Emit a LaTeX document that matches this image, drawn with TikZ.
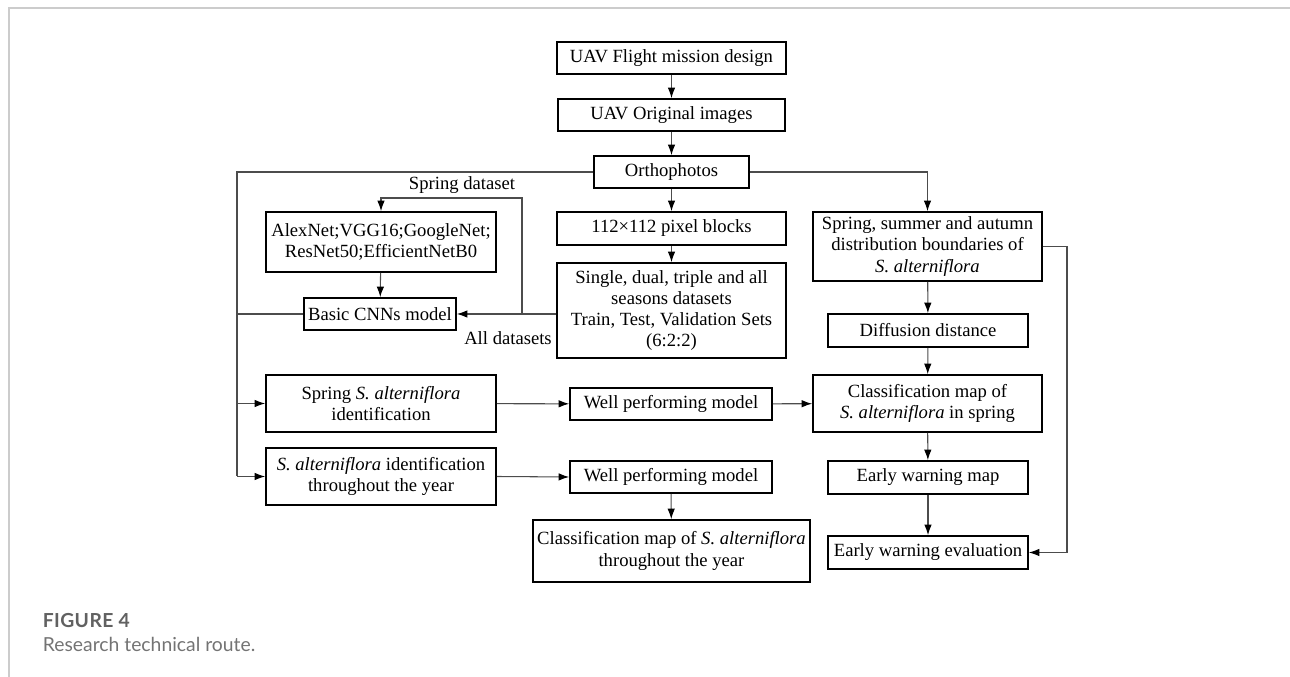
\documentclass[tikz,border=0pt]{standalone}
\usepackage{fontspec}
\setmainfont{Liberation Serif}
\newfontfamily\capfont{Lato}
\newfontfamily\capfontwide[LetterSpace=2]{Lato}
\usetikzlibrary{arrows.meta}

\begin{document}
\begin{tikzpicture}[line width=1pt, >={Latex[length=2.1mm,width=1.5mm,black]},
	block/.style={draw, line width=1pt, align=center, inner sep=1pt, font=\fontsize{10.6}{12}\selectfont},
	link/.style={line width=0.6pt, draw=black!70},
	lbl/.style={font=\fontsize{10.6}{12}\selectfont, inner sep=0pt}]
	\useasboundingbox (0,0) rectangle (25.8,13.54);
	\draw[black!20, line width=0.8pt] (0.18,0) -- (0.18,13.38) -- (25.8,13.38); % Рамка
	
	% Центральная колонка
	\node[block, minimum width=4.58cm, minimum height=0.64cm] (flight) at (13.43,12.38) {UAV Flight mission design};
	\node[block, minimum width=4.54cm, minimum height=0.64cm] (orig) at (13.43,11.24) {UAV Original images};
	\node[block, minimum width=3.1cm, minimum height=0.64cm] (ortho) at (13.43,10.10) {Orthophotos};
	\node[block, minimum width=4.58cm, minimum height=0.66cm] (blocks) at (13.43,8.97) {112×112 pixel blocks};
	\node[block, minimum width=4.58cm, minimum height=1.9cm] (sets) at (13.43,7.33) {Single, dual, triple and all\\seasons datasets\\Train, Test, Validation Sets\\(6:2:2)};
	\node[block, minimum width=4.04cm, minimum height=0.64cm] (model1) at (13.42,5.46) {Well performing model};
	\node[block, minimum width=4.04cm, minimum height=0.64cm] (model2) at (13.42,4.00) {Well performing model};
	\node[block, minimum width=5.54cm, minimum height=1.24cm] (mapyear) at (13.43,2.52) {Classification map of \textit{S. alterniflora}\\throughout the year};
	
	% Левая колонка
	\node[block, minimum width=4.6cm, minimum height=1.2cm] (nets) at (7.62,8.70) {AlexNet;VGG16;GoogleNet;\\ResNet50;EfficientNetB0};
	\node[block, minimum width=3.04cm, minimum height=0.64cm] (cnn) at (7.60,7.26) {Basic CNNs model};
	\node[block, minimum width=4.6cm, minimum height=1.14cm] (springid) at (7.62,5.47) {Spring \textit{S. alterniflora}\\identification};
	\node[block, minimum width=4.6cm, minimum height=1.14cm] (yearid) at (7.62,4.01) {\textit{S. alterniflora} identification\\throughout the year};
	
	% Правая колонка
	\node[block, minimum width=4.58cm, minimum height=1.38cm] (bounds) at (18.55,8.61) {Spring, summer and autumn\\distribution boundaries of\\\textit{S. alterniflora}};
	\node[block, minimum width=4.0cm, minimum height=0.66cm] (diff) at (18.56,6.93) {Diffusion distance};
	\node[block, minimum width=4.58cm, minimum height=1.14cm] (mapspring) at (18.55,5.47) {Classification map of\\\textit{S. alterniflora} in spring};
	\node[block, minimum width=4.0cm, minimum height=0.66cm] (warnmap) at (18.56,3.99) {Early warning map};
	\node[block, minimum width=4.0cm, minimum height=0.66cm] (warneval) at (18.56,2.49) {Early warning evaluation};
	
	\coordinate (bustop) at (4.74,10.10);
	\coordinate (busend) at (4.74,4.01);
	\coordinate (split) at (10.44,7.26);
	\coordinate (turn) at (10.44,9.58);
	\coordinate (rtop) at (21.34,8.61);
	
	\draw[link,->] (flight) -- (orig);
	\draw[link,->] (orig) -- (ortho);
	\draw[link,->] (ortho) -- (blocks);
	\draw[link,->] (blocks) -- (sets);
	\draw[link,->] (ortho.east) -| (bounds.north);
	
	\draw[link] (ortho.west) -- (bustop) -- (busend); % Левая шина
	\draw[link] (cnn.west) -- (cnn.west -| bustop);
	\draw[link,->] (springid.west -| bustop) -- (springid.west);
	\draw[link,->] (busend) -- (yearid.west);
	
	\draw[link,->] (cnn.east -| sets.west) -- (cnn.east);
	\draw[link,->] (split) -- (turn) -| (nets.north);
	\draw[link,->] (nets) -- (cnn);
	
	\draw[link,->] (springid) -- (model1);
	\draw[link,->] (model1) -- (mapspring);
	\draw[link,->] (yearid.east) -- (model2.west);
	\draw[link,->] (model2) -- (mapyear);
	
	\draw[link,->] (bounds) -- (diff);
	\draw[link,->] (diff) -- (mapspring);
	\draw[link,->] (mapspring) -- (warnmap);
	\draw[link,->] (warnmap) -- (warneval);
	\draw[link,->] (bounds.east) -- (rtop) |- (warneval.east);
	
	\node[lbl] (lspring) at (9.24,9.84) {Spring dataset};
	\node[lbl] (lall) at (10.16,6.78) {All datasets};
	
	% Подпись
	\node[anchor=west, inner sep=0pt, text=black!62, font=\capfontwide\bfseries\fontsize{11}{13}\selectfont] (fig) at (0.84,1.12) {FIGURE 4};
	\node[anchor=west, inner sep=0pt, text=black!55, font=\capfont\fontsize{11}{13}\selectfont] (cap) at (0.84,0.66) {Research technical route.};
\end{tikzpicture}
\end{document}
